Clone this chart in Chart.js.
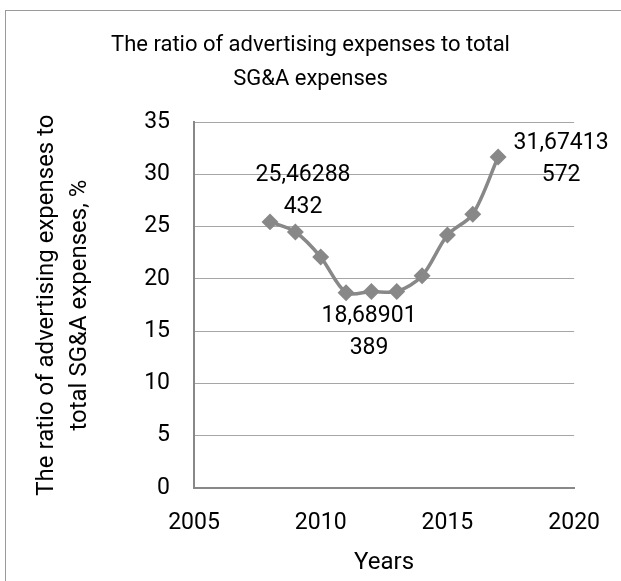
<!DOCTYPE html>
<html>
<head>
<meta charset="utf-8">
<script src="https://cdn.jsdelivr.net/npm/chart.js@4.4.0/dist/chart.umd.min.js"></script>
<style>
  body { margin: 0; background: #fff; overflow: hidden; }
  #frame { position: absolute; left: 5px; top: 10px; width: 700px; height: 700px; border: 1px solid #9a9a9a; }
  canvas { position: absolute; left: 0; top: 0; }
</style>
</head>
<body>
<div id="frame"></div>
<canvas id="grafico" width="621" height="581"></canvas>
<script>
// dados
const anos = [2008, 2009, 2010, 2011, 2012, 2013, 2014, 2015, 2016, 2017];
const razao = [25.46288432, 24.5, 22.1, 18.68901389, 18.8, 18.8, 20.3, 24.2, 26.2, 31.67413572];
const rotulosIdx = [0, 3, 9];
const titulo = ['The ratio of advertising expenses to total', 'SG&A expenses'];
const tituloY = ['The ratio of advertising expenses to', 'total SG&A expenses, %'];
const tituloX = 'Years';

const fonte = 'Roboto, "Noto Sans", sans-serif';
Chart.defaults.font.family = fonte;
Chart.defaults.color = '#000000';

// rotulos tipo Excel: numero com virgula quebrado em duas linhas
const offsets = { 0: [33, -47], 3: [23, 24], 9: [63, -14] };
const rotulos = {
  id: 'rotulos',
  afterDatasetsDraw(chart) {
    const meta = chart.getDatasetMeta(0);
    const ctx = chart.ctx;
    ctx.save();
    ctx.font = '23px ' + fonte;
    ctx.fillStyle = '#000';
    ctx.textAlign = 'center';
    ctx.textBaseline = 'middle';
    for (let i of rotulosIdx) {
      const p = meta.data[i];
      const s = String(razao[i]).replace('.', ',');
      const linhas = [s.slice(0, 8), s.slice(8)];
      const [dx, dy] = offsets[i];
      linhas.forEach((l, k) => ctx.fillText(l, p.x + dx, p.y + dy + k * 32));
    }
    ctx.restore();
  }
};

new Chart(document.getElementById('grafico'), {
  type: 'line',
  data: {
    datasets: [{
      data: anos.map((a, i) => ({ x: a, y: razao[i] })),
      borderColor: '#888888',
      backgroundColor: '#888888',
      borderWidth: 3.5,
      pointStyle: 'rectRot',
      pointRadius: 6,
      pointHoverRadius: 6,
      tension: 0.3,
      fill: false
    }]
  },
  options: {
    responsive: false,
    animation: false,
    devicePixelRatio: 1,
    layout: { padding: 0 },
    plugins: {
      legend: { display: false },
      tooltip: { enabled: false },
      title: {
        display: true,
        text: titulo,
        color: '#000',
        font: { size: 22, weight: 'normal', lineHeight: 1.55 },
        padding: { top: 28, bottom: 26 }
      }
    },
    scales: {
      x: {
        type: 'linear',
        min: 2005,
        max: 2020,
        ticks: { stepSize: 5, padding: 21, font: { size: 23 }, color: '#000', callback: v => String(v) },
        grid: { display: false, drawTicks: false },
        border: { display: true, color: '#888888', width: 2 },
        title: { display: true, text: tituloX, font: { size: 24 }, color: '#000', padding: { top: 0, bottom: 4 } },
        afterFit: s => { s.height = 93; }
      },
      y: {
        min: 0,
        max: 35,
        ticks: { stepSize: 5, padding: 24, font: { size: 23 }, color: '#000' },
        grid: { color: '#a6a6a6', drawTicks: false },
        border: { display: true, color: '#888888', width: 2 },
        title: { display: true, text: tituloY, font: { size: 24, lineHeight: 1.375 }, color: '#000', padding: { top: 30, bottom: 0 } },
        afterFit: s => { s.width = 194; }
      },
      dir: {
        position: 'right',
        display: true,
        ticks: { display: false },
        grid: { drawOnChartArea: false, drawTicks: false },
        border: { display: false },
        afterFit: s => { s.width = 39; }
      }
    }
  },
  plugins: [rotulos]
});
</script>
</body>
</html>
